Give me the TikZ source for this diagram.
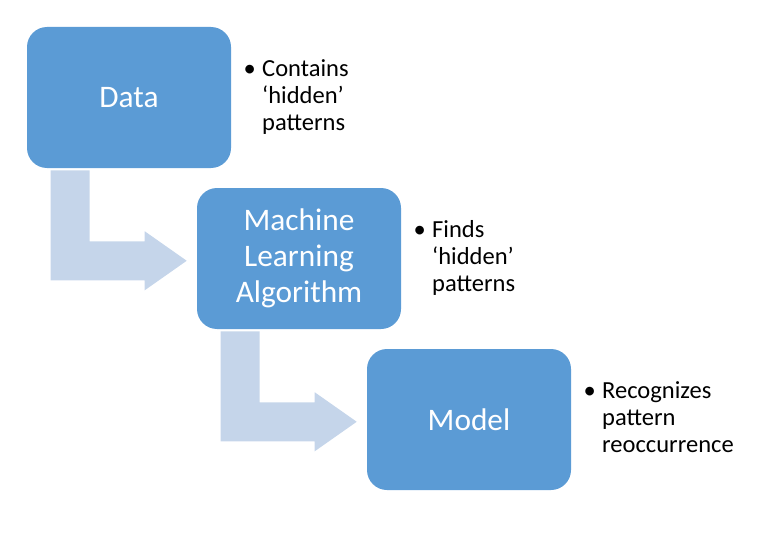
\documentclass[tikz,border=0pt]{standalone}
\usepackage{fontspec}
\setmainfont{Carlito}
\usetikzlibrary{calc}
\definecolor{boxblue}{HTML}{5B9BD5}
\definecolor{arrowblue}{HTML}{C5D5EA}

\begin{document}
\begin{tikzpicture}[x=0.75pt,y=-0.75pt]

\tikzset{stepbox/.style={shape=rectangle,rounded corners=15pt,fill=boxblue,draw=none,text=white,align=center,minimum width=153pt,minimum height=105.75pt,inner sep=0pt,font=\fontsize{23.5}{26.8}\selectfont},
notetext/.style={anchor=base west,inner sep=0pt,font=\fontsize{18.4}{20.3}\selectfont}}

\useasboundingbox (0,0) rectangle (768,535);

% Boxes
\node[stepbox] (data) at (129,97.5) {Data};
\node[stepbox] (algo) at (299,258.5) {Machine\\Learning\\Algorithm};
\node[stepbox] (model) at (469,419.5) {Model};

% Notes
\node[notetext] (dataNote) at ($(data.north east)+(12,50)$) {\begin{tabular}[t]{@{}p{14pt}@{}l@{}}\textbullet & Contains\\ & `hidden'\\ & patterns\end{tabular}};
\node[notetext] (algoNote) at ($(algo.north east)+(12,50)$) {\begin{tabular}[t]{@{}p{14pt}@{}l@{}}\textbullet & Finds\\ & `hidden'\\ & patterns\end{tabular}};
\node[notetext] (modelNote) at ($(model.north east)+(12,50)$) {\begin{tabular}[t]{@{}p{14pt}@{}l@{}}\textbullet & Recognizes\\ & pattern\\ & reoccurrence\end{tabular}};

% Bent arrows
\foreach \a in {data,algo}
  \fill[arrowblue] ($(\a.south west)+(24,2)$) -- ($(\a.south west)+(63,2)$) -- ($(\a.south west)+(63,73)$)
    -- ($(\a.south west)+(118,73)$) -- ($(\a.south west)+(118,63)$) -- ($(\a.south west)+(160,92.5)$)
    -- ($(\a.south west)+(118,122)$) -- ($(\a.south west)+(118,112)$) -- ($(\a.south west)+(24,112)$) -- cycle;

\end{tikzpicture}
\end{document}
